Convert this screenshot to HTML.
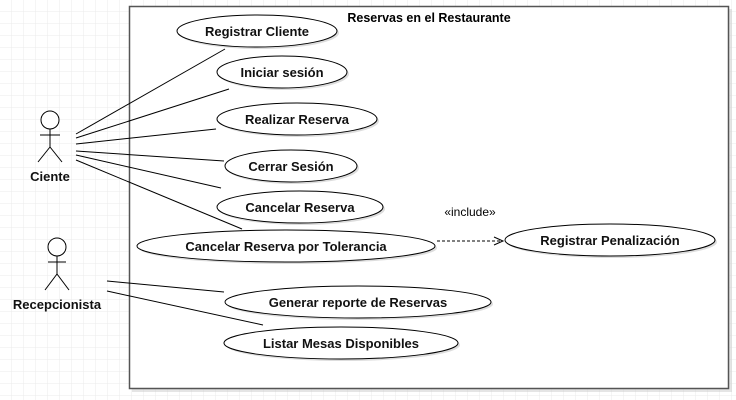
<!DOCTYPE html>
<html><head><meta charset="utf-8"><style>
body{margin:0;background:#fff}
svg{display:block;font-family:"Liberation Sans",sans-serif}
</style></head><body>
<svg width="736" height="400" viewBox="0 0 736 400" xmlns="http://www.w3.org/2000/svg">
<defs>
<pattern id="g" width="12" height="12" patternUnits="userSpaceOnUse">
<path d="M12 0V12M0 12H12" fill="none" stroke="#ebebeb" stroke-width="1"/>
</pattern>
</defs>
<rect width="736" height="400" fill="url(#g)"/>
<rect x="132" y="9" width="600" height="383" fill="#ccc" opacity="0.5"/>
<rect x="129.5" y="6.5" width="599" height="382" fill="#fff" stroke="#555" stroke-width="1.5"/>
<text x="429" y="22" font-size="12.5" font-weight="bold" text-anchor="middle">Reservas en el Restaurante</text>
<g stroke="#000" stroke-width="1" fill="none">
<line x1="76" y1="134" x2="225" y2="49"/>
<line x1="76" y1="138" x2="229" y2="89"/>
<line x1="76" y1="144" x2="216" y2="129"/>
<line x1="76" y1="151" x2="224" y2="161"/>
<line x1="76" y1="155" x2="221" y2="188"/>
<line x1="76" y1="160" x2="242" y2="229"/>
<line x1="107" y1="281" x2="224" y2="292"/>
<line x1="107" y1="291" x2="263" y2="325"/>
</g>
<g fill="#fff" stroke="#000" stroke-width="1">
<ellipse cx="259" cy="33" rx="80" ry="16" fill="#ddd" stroke="none"/>
<ellipse cx="257" cy="31" rx="80" ry="16"/>
<ellipse cx="284" cy="74" rx="65" ry="16" fill="#ddd" stroke="none"/>
<ellipse cx="282" cy="72" rx="65" ry="16"/>
<ellipse cx="299" cy="121" rx="80" ry="16" fill="#ddd" stroke="none"/>
<ellipse cx="297" cy="119" rx="80" ry="16"/>
<ellipse cx="293" cy="168" rx="66" ry="16" fill="#ddd" stroke="none"/>
<ellipse cx="291" cy="166" rx="66" ry="16"/>
<ellipse cx="302" cy="209" rx="83" ry="16" fill="#ddd" stroke="none"/>
<ellipse cx="300" cy="207" rx="83" ry="16"/>
<ellipse cx="288" cy="248" rx="149" ry="16" fill="#ddd" stroke="none"/>
<ellipse cx="286" cy="246" rx="149" ry="16"/>
<ellipse cx="612" cy="242" rx="105" ry="16" fill="#ddd" stroke="none"/>
<ellipse cx="610" cy="240" rx="105" ry="16"/>
<ellipse cx="360" cy="304" rx="133" ry="16" fill="#ddd" stroke="none"/>
<ellipse cx="358" cy="302" rx="133" ry="16"/>
<ellipse cx="343" cy="345" rx="117" ry="16" fill="#ddd" stroke="none"/>
<ellipse cx="341" cy="343" rx="117" ry="16"/>
</g>
<g font-size="13" font-weight="bold" text-anchor="middle" fill="#111">
<text x="257" y="36">Registrar Cliente</text>
<text x="282" y="77">Iniciar sesión</text>
<text x="297" y="124">Realizar Reserva</text>
<text x="291" y="171">Cerrar Sesión</text>
<text x="300" y="212">Cancelar Reserva</text>
<text x="286" y="251">Cancelar Reserva por Tolerancia</text>
<text x="610" y="245">Registrar Penalización</text>
<text x="358" y="307">Generar reporte de Reservas</text>
<text x="341" y="348">Listar Mesas Disponibles</text>
<text x="50" y="181">Ciente</text>
<text x="57" y="309">Recepcionista</text>
</g>
<line x1="437" y1="241" x2="502" y2="241" stroke="#000" stroke-dasharray="3,2"/>
<path d="M494 237L503 241L494 245" fill="none" stroke="#000"/>
<text x="470" y="216" font-size="12" text-anchor="middle">«include»</text>
<g stroke="#000" fill="none">
<circle cx="50" cy="120" r="9" fill="#fff"/>
<line x1="50" y1="129" x2="50" y2="147"/>
<line x1="40" y1="135" x2="60" y2="135"/>
<line x1="50" y1="147" x2="38" y2="162"/>
<line x1="50" y1="147" x2="62" y2="162"/>
<circle cx="57" cy="247" r="9" fill="#fff"/>
<line x1="57" y1="256" x2="57" y2="274"/>
<line x1="48" y1="262" x2="66" y2="262"/>
<line x1="57" y1="274" x2="45" y2="290"/>
<line x1="57" y1="274" x2="69" y2="290"/>
</g>
</svg>
</body></html>
